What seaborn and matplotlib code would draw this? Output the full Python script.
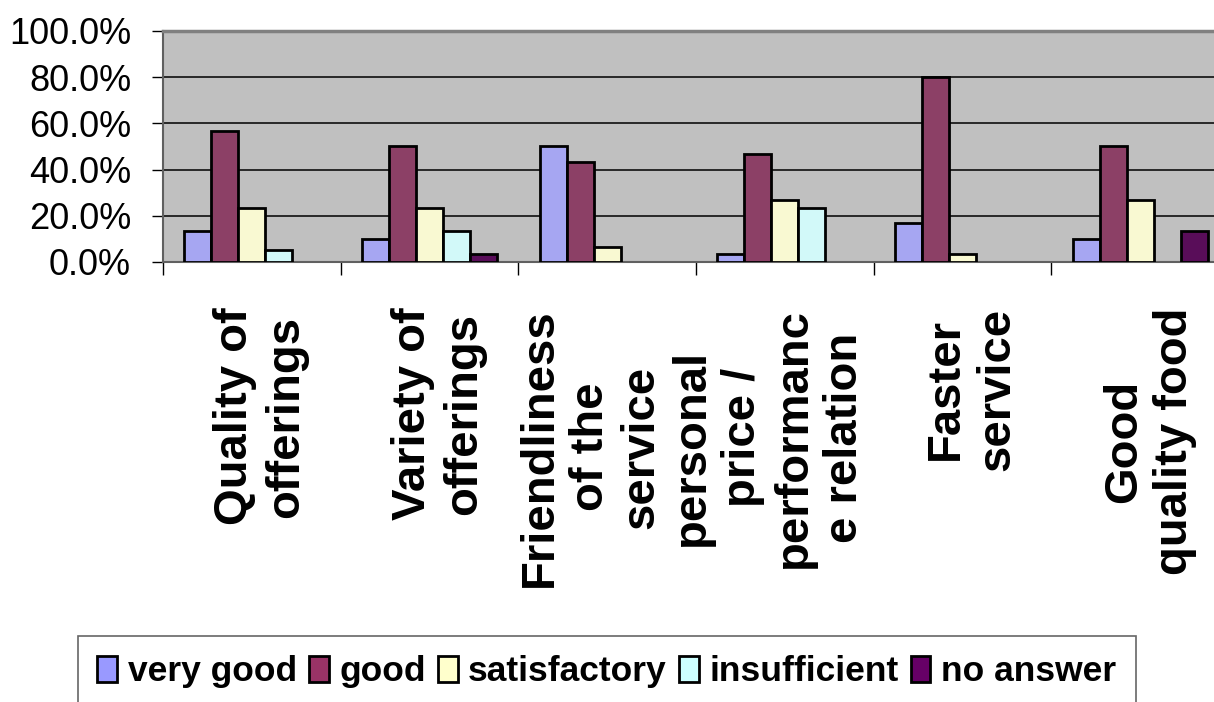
import numpy as np
import pandas as pd
import matplotlib
matplotlib.use('Agg')
import matplotlib.pyplot as plt
import matplotlib.transforms as mtransforms
from matplotlib.patches import Patch
import seaborn as sns

categories = ['Quality of\nofferings', 'Variety of\nofferings',
              'Friendliness\nof the\nservice\npersonal',
              'price /\nperformanc\ne relation', 'Faster\nservice',
              'Good\nquality food']
series = ['very good', 'good', 'satisfactory', 'insufficient', 'no answer']
very_good = [13.3, 10.0, 50.0, 3.3, 16.7, 10.0]
good = [56.7, 50.0, 43.3, 46.7, 80.0, 50.0]
satisfactory = [23.3, 23.3, 6.7, 26.7, 3.3, 26.7]
insufficient = [5.0, 13.3, 0.0, 23.3, 0.0, 0.0]
no_answer = [0.0, 3.3, 0.0, 0.0, 0.0, 13.3]
colors = ['#9999FF', '#993366', '#FFFFCC', '#CCFFFF', '#660066']
y_ticks = [0, 20, 40, 60, 80, 100]

df = pd.DataFrame({'very good': very_good, 'good': good,
                   'satisfactory': satisfactory, 'insufficient': insufficient,
                   'no answer': no_answer})
df['cat'] = categories
df = df.melt(id_vars='cat', var_name='rating', value_name='pct')
df = df[df.pct > 0]

sns.set_style('white')
plt.rcParams['font.family'] = ['Liberation Sans', 'DejaVu Sans']
plt.rcParams['text.color'] = 'black'
plt.rcParams['xtick.color'] = 'black'
plt.rcParams['ytick.color'] = 'black'

fig = plt.figure(figsize=(12.14, 7.02), dpi=100)
ax = fig.add_axes([163 / 1214, 1 - 262 / 702, (1229 - 163) / 1214, 231 / 702])
ax.set_facecolor('#C0C0C0')

sns.barplot(data=df, x='cat', y='pct', hue='rating', order=categories,
            hue_order=series, palette=colors, width=0.76, dodge=True,
            edgecolor='black', linewidth=2.0, errorbar=None, legend=False,
            ax=ax, zorder=3)

ax.set_xlim(-0.5, len(categories) - 0.5)
ax.set_ylim(0, 100)
ax.set_yticks(y_ticks)
ax.set_yticklabels(['%.1f%%' % v for v in y_ticks], fontsize=26)
ax.yaxis.grid(True, color='black', linewidth=1.1, zorder=0)
ax.set_axisbelow(True)
ax.tick_params(axis='y', direction='out', length=8, width=1,
               pad=15, left=True)

# category borders as ticks, labels in between
ax.set_xticks(np.arange(len(categories) + 1) - 0.5)
ax.set_xticklabels([])
ax.set_xticks(np.arange(len(categories)), minor=True)
ax.set_xticklabels(categories, minor=True, rotation=90, fontsize=34,
                   fontweight='bold', ha='center', va='top',
                   multialignment='center', linespacing=1.2)
ax.tick_params(axis='x', which='major', direction='out', length=9, width=1,
               bottom=True)
ax.tick_params(axis='x', which='minor', length=0, pad=33)
shift = mtransforms.ScaledTranslation(9 / 100, 0, fig.dpi_scale_trans)
for lbl in ax.get_xticklabels(minor=True):
    lbl.set_transform(lbl.get_transform() + shift)
ax.set_xlabel('')
ax.set_ylabel('')

for side in ['top', 'right']:
    ax.spines[side].set_color('#808080')
    ax.spines[side].set_linewidth(2.5)
ax.spines['left'].set_color('#606060')
ax.spines['left'].set_linewidth(1.5)
ax.spines['bottom'].set_color('#606060')
ax.spines['bottom'].set_linewidth(1.5)

handles = [Patch(facecolor=c, edgecolor='black', linewidth=2, label=s)
           for c, s in zip(colors, series)]
leg = fig.legend(handles=handles, loc='upper left', ncol=5,
                 bbox_to_anchor=(78 / 1214, 1 - 636 / 702),
                 prop={'weight': 'bold', 'size': 25.5},
                 handlelength=0.55, handleheight=0.75, handletextpad=0.3,
                 columnspacing=0.35, borderpad=0.55, borderaxespad=0,
                 frameon=True, fancybox=False)
leg.get_frame().set_edgecolor('#404040')
leg.get_frame().set_linewidth(1.2)

fig.savefig('out.png', dpi=100)
